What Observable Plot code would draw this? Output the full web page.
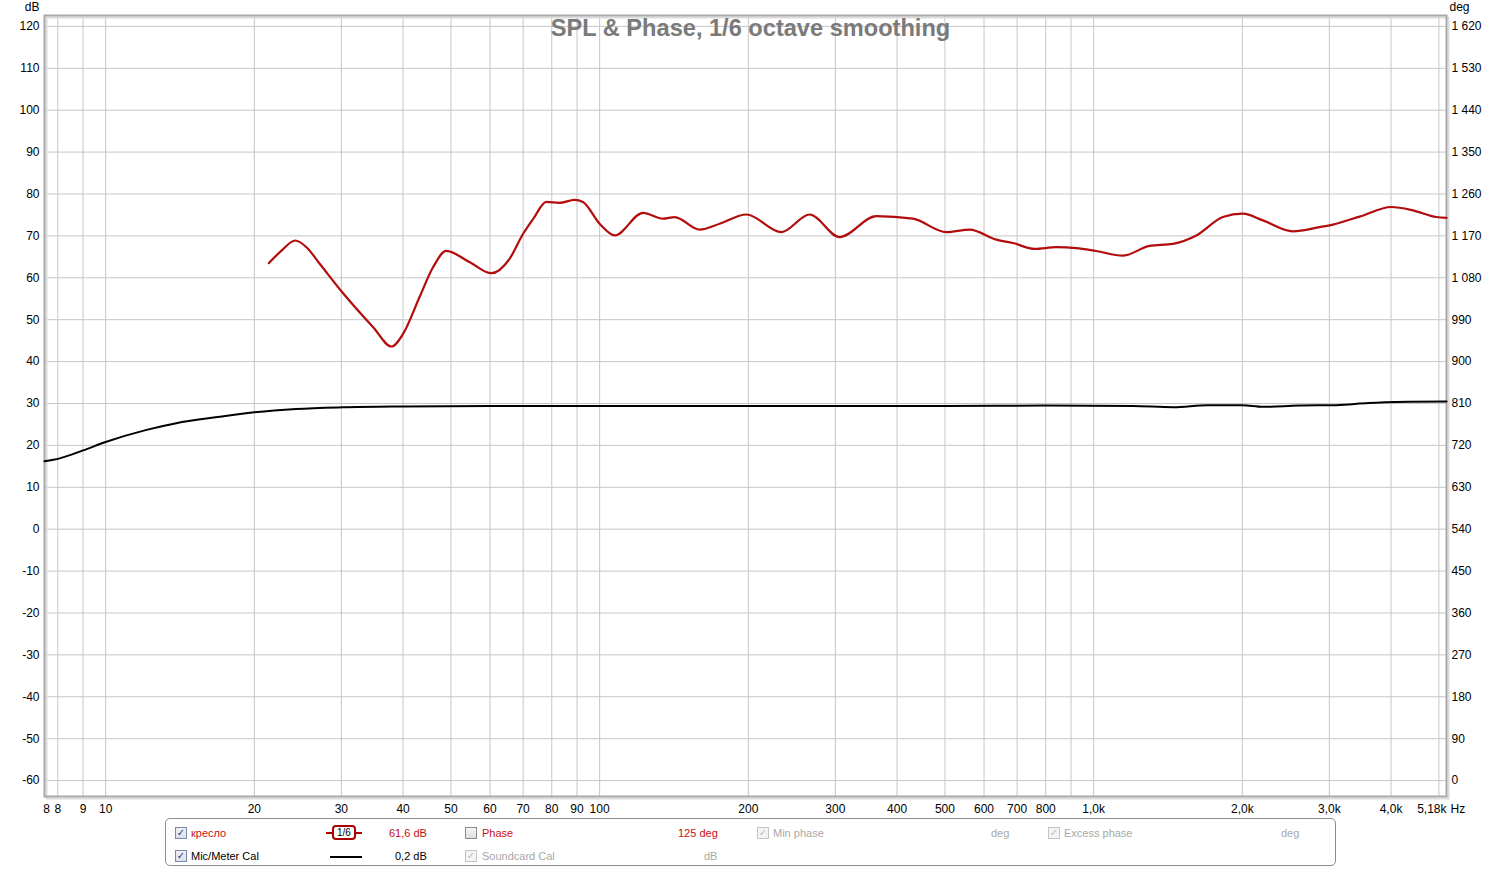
<!DOCTYPE html>
<html>
<head>
<meta charset="utf-8">
<script src="https://cdn.jsdelivr.net/npm/d3@7"></script>
<script src="https://cdn.jsdelivr.net/npm/@observablehq/plot@0.6"></script>
<style>
  html, body { margin: 0; padding: 0; background: #fff; }
  #wrap { position: relative; width: 1502px; height: 869px; font-family: "Liberation Sans", Arial, sans-serif; }
  #legend { position: absolute; left: 165px; top: 818px; width: 1171px; height: 48px; border: 1px solid #8c8c8c; border-radius: 5px; box-sizing: border-box; font-size: 11px; }
  .it { position: absolute; line-height: 12px; white-space: nowrap; }
  .cb { position: absolute; width: 10px; height: 10px; border: 1px solid #7a8aa6; background: linear-gradient(#eef1f6, #d9dfe9); font-size: 10px; line-height: 10px; text-align: center; color: #22408a; font-family: "DejaVu Sans", sans-serif; }
  .cb.off { border-color: #c4c4c4; background: #f4f4f4; color: #bbb; }
  .cb.empty { border-color: #8a8a8a; background: linear-gradient(#f6f6f6, #dedede); }
  .red { color: #c41010; }
  .gray { color: #a8a8a8; }
</style>
</head>
<body>
<div id="wrap">
  <div id="chart"></div>
  <div id="legend"></div>
</div>
<script>
// ---- data ----
const redFreq = [21.4, 22.7, 24.2, 25.5, 27.1, 30.1, 34.8, 37.9, 40.0, 43.2, 46.0, 48.9, 54.6, 60.4, 65.7, 70.0, 73.5, 78.0, 83.0, 89.0, 92.5, 100, 107.3, 122.4, 134.3, 141.9, 159.4, 175.0, 198.2, 233.3, 266.1, 306.0, 363.1, 430.8, 503.2, 561.0, 635.3, 686.6, 759.7, 840.3, 922.5, 1012, 1146, 1298, 1447, 1614, 1827, 2005, 2201, 2532, 2868, 3051, 3455, 4005, 4430, 4940, 5180];
const redDb   = [63.5, 66.5, 68.9, 67.3, 63.4, 56.6, 48.2, 43.6, 46.6, 55.4, 62.5, 66.4, 63.7, 61.1, 64.5, 70.5, 74.2, 78.1, 77.9, 78.6, 78.1, 72.9, 70.1, 75.5, 74.1, 74.5, 71.5, 72.9, 75.1, 70.9, 75.1, 69.7, 74.7, 74.1, 70.9, 71.5, 69.1, 68.3, 66.9, 67.3, 67.1, 66.4, 65.3, 67.6, 68.1, 70.1, 74.5, 75.3, 73.7, 71.1, 72.1, 72.7, 74.6, 76.9, 76.1, 74.5, 74.3];
const blackFreq = [7.52, 8.07, 9.0, 10.0, 12.1, 13.9, 16.7, 20.0, 24.3, 30.2, 40, 60, 100, 200, 500, 800, 1200, 1450, 1700, 2000, 2200, 2600, 3100, 3600, 4400, 5180];
const blackDb   = [16.2, 16.9, 18.8, 20.8, 23.7, 25.3, 26.7, 27.9, 28.7, 29.1, 29.3, 29.4, 29.4, 29.4, 29.4, 29.5, 29.4, 29.1, 29.6, 29.6, 29.2, 29.5, 29.6, 30.1, 30.4, 30.5];
const xDomain = [7.52, 5180];
const yDomain = [-63.8, 122.6];
const yTicks = [-60, -50, -40, -30, -20, -10, 0, 10, 20, 30, 40, 50, 60, 70, 80, 90, 100, 110, 120];
const xGrid = [8, 9, 10, 20, 30, 40, 50, 60, 70, 80, 90, 100, 200, 300, 400, 500, 600, 700, 800, 900, 1000, 2000, 3000, 4000, 5000];
const xTickVals = [7.52, 8, 9, 10, 20, 30, 40, 50, 60, 70, 80, 90, 100, 200, 300, 400, 500, 600, 700, 800, 1000, 2000, 3000, 4000];
const xTickLabels = ["8", "8", "9", "10", "20", "30", "40", "50", "60", "70", "80", "90", "100", "200", "300", "400", "500", "600", "700", "800", "1,0k", "2,0k", "3,0k", "4,0k"];
const title = "SPL & Phase, 1/6 octave smoothing";

const red = redFreq.map((f, i) => ({f, v: redDb[i]}));
const black = blackFreq.map((f, i) => ({f, v: blackDb[i]}));
const xTicks = xTickVals.map((f, i) => ({f, label: xTickLabels[i]}));
const fmtDeg = d => { const n = Math.round((d + 60) * 9); return n >= 1000 ? Math.floor(n / 1000) + " " + String(n % 1000).padStart(3, "0") : String(n); };

const chart = Plot.plot({
  width: 1502,
  height: 820,
  marginLeft: 44,
  marginRight: 56,
  marginTop: 15,
  marginBottom: 24,
  style: { fontFamily: "'Liberation Sans', Arial, sans-serif", fontSize: "12px", color: "#000", background: "#fff" },
  x: { type: "log", domain: xDomain, axis: null },
  y: { domain: yDomain },
  marks: [
    Plot.ruleY(yTicks, { stroke: "#c6c6c6", strokeWidth: 1 }),
    Plot.ruleX(xGrid, { stroke: "#c6c6c6", strokeWidth: 1 }),
    Plot.frame({ stroke: "#dcdcdc", strokeWidth: 2, dx: 2, dy: 2 }),
    Plot.frame({ stroke: "#a9a9a9", strokeWidth: 2 }),
    Plot.axisY({ anchor: "left", ticks: yTicks, tickSize: 0, tickPadding: 5, tickFormat: d => String(d), label: null, fontSize: 12 }),
    Plot.axisY({ anchor: "right", ticks: yTicks, tickSize: 0, tickPadding: 5, tickFormat: fmtDeg, label: null, fontSize: 12 }),
    Plot.text(xTicks.slice(0, 1), { x: "f", text: "label", frameAnchor: "bottom", dy: 16, dx: 2, fontSize: 12 }),
    Plot.text(xTicks.slice(1), { x: "f", text: "label", frameAnchor: "bottom", dy: 16, fontSize: 12 }),
    Plot.text([xDomain[1]], { x: d => d, text: () => "5,18k", frameAnchor: "bottom", dy: 16, textAnchor: "end", fontSize: 12 }),
    Plot.text([xDomain[1]], { x: d => d, text: () => "Hz", frameAnchor: "bottom", dy: 16, dx: 4, textAnchor: "start", fontSize: 12 }),
    Plot.text(["dB"], { frameAnchor: "top-left", dy: -13, dx: -5, textAnchor: "end", fontSize: 12 }),
    Plot.text(["deg"], { frameAnchor: "top-right", dy: -13, dx: 3, textAnchor: "start", fontSize: 12 }),
    Plot.text([title], { frameAnchor: "top", dy: 4, dx: 5, fontSize: 23.6, fontWeight: "bold", fill: "#7a7a7a" }),
    Plot.line(black, { x: "f", y: "v", stroke: "#000", strokeWidth: 2, curve: "monotone-x" }),
    Plot.line(red, { x: "f", y: "v", stroke: "#b30c0c", strokeWidth: 2.2, curve: "monotone-x" })
  ]
});
document.getElementById("chart").appendChild(chart);

// ---- legend ----
const L = document.getElementById("legend");
const ox = 165, oy = 818;
function add(html, x, y, cls) {
  const e = document.createElement("div");
  e.className = cls || "it";
  e.style.left = (x - ox) + "px";
  e.style.top = (y - oy) + "px";
  e.innerHTML = html;
  L.appendChild(e);
  return e;
}
function cb(x, y, state) { add(state === "empty" ? "" : "✓", x, y, "cb" + (state === "off" ? " off" : state === "empty" ? " empty" : "")); }
// row 1
cb(174, 826, "on");
add("кресло", 190, 826, "it red");
add('<span style="display:inline-block;width:6px;height:2px;background:#a00;vertical-align:middle"></span><span style="display:inline-block;border:2px solid #a00;border-radius:4px;padding:0 3px;height:11px;line-height:11px;font-size:10px;color:#000;vertical-align:middle">1/6</span><span style="display:inline-block;width:6px;height:2px;background:#a00;vertical-align:middle"></span>', 325, 824, "it");
add("61,6 dB", 388, 826, "it red");
cb(464, 826, "empty");
add("Phase", 481, 826, "it red");
add("125 deg", 677, 826, "it red");
cb(756, 826, "off");
add("Min phase", 772, 826, "it gray");
add("deg", 990, 826, "it gray");
cb(1047, 826, "off");
add("Excess phase", 1063, 826, "it gray");
add("deg", 1280, 826, "it gray");
// row 2
cb(174, 849, "on");
add("Mic/Meter Cal", 190, 849, "it");
add('<span style="display:inline-block;width:32px;height:2px;background:#000;vertical-align:middle"></span>', 329, 849, "it");
add("0,2 dB", 394, 849, "it");
cb(464, 849, "off");
add("Soundcard Cal", 481, 849, "it gray");
add("dB", 703, 849, "it gray");
</script>
</body>
</html>
